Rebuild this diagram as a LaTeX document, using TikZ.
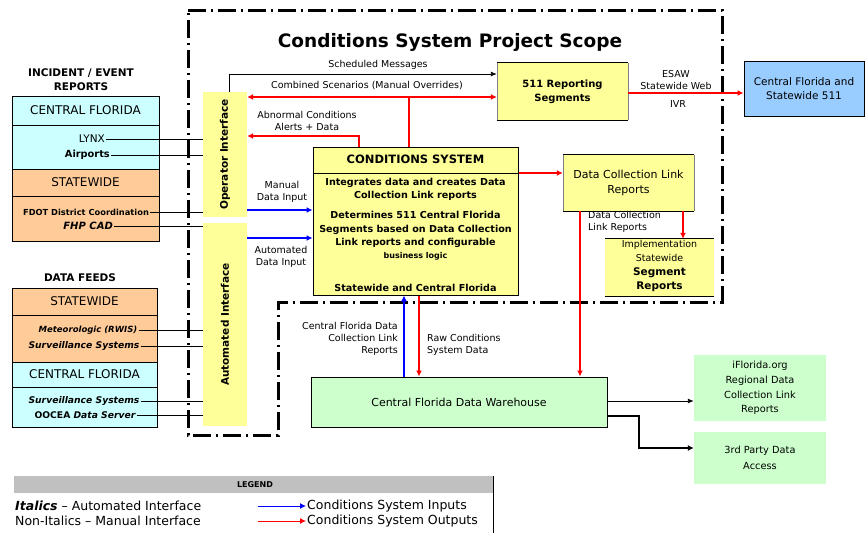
\documentclass[tikz,border=0pt]{standalone}
\usepackage{fontspec}
\setmainfont{DejaVu Sans}
\usetikzlibrary{arrows.meta}
\definecolor{cyel}{HTML}{FFFF99}
\definecolor{ccyan}{HTML}{CCFFFF}
\definecolor{corange}{HTML}{FFCC99}
\definecolor{cskyb}{HTML}{99CCFF}
\definecolor{cgreen}{HTML}{CCFFCC}
\definecolor{cgray}{HTML}{C0C0C0}
\definecolor{cred}{HTML}{FF0000}
\definecolor{cblue}{HTML}{0000FF}
\begin{document}
\begin{tikzpicture}[x=1pt,y=-1pt,
  every node/.style={inner sep=1pt},
  hd/.style={font=\fontsize{10.5}{14}\selectfont\bfseries, align=center},
  captxt/.style={font=\fontsize{12}{13}\selectfont},
  item/.style={font=\fontsize{10.5}{11}\selectfont},
  itemb/.style={font=\fontsize{8.3}{10}\selectfont\bfseries},
  itemi/.style={font=\fontsize{8.5}{10}\selectfont\bfseries\itshape},
  lab/.style={font=\fontsize{9.5}{12}\selectfont, align=center},
  btxt/.style={font=\fontsize{10.5}{14}\selectfont, align=center},
  csb/.style={font=\fontsize{9.6}{13.3}\selectfont\bfseries, align=center},
  vtxt/.style={rotate=90, font=\fontsize{10.5}{13}\selectfont\bfseries},
  legtxt/.style={font=\fontsize{12.5}{14}\selectfont, anchor=west},
  conn/.style={line width=0.9pt},
  blk/.style={line width=0.9pt, -{Latex[length=6pt,width=5pt]}},
  blkthick/.style={line width=2.2pt, -{Latex[length=6pt,width=6pt]}},
  redln/.style={draw=cred, line width=1.2pt},
  redarr/.style={draw=cred, line width=1.2pt, -{Latex[length=6pt,width=6pt]}},
  reddbl/.style={draw=cred, line width=1.8pt, {Latex[length=6pt,width=6pt]}-{Latex[length=6pt,width=6pt]}},
  bluearr/.style={draw=cblue, line width=1.8pt, -{Latex[length=6pt,width=6pt]}},
  scope/.style={line width=3pt, dash pattern=on 18pt off 5pt on 2pt off 5pt}
]
\useasboundingbox (0,0) rectangle (867,533);
\fill[white] (0,0) rectangle (867,533);

% ---------- project scope border ----------
\draw[scope] (188,10) -- (722,10) -- (722,302) -- (278,302) -- (278,435) -- (188,435) -- cycle;
\node[font=\fontsize{18.5}{22}\selectfont\bfseries] (title) at (450,42) {Conditions System Project Scope};

% ---------- incident / event reports panel ----------
\node[hd] (ierhd) at (81,80) {INCIDENT / EVENT\\REPORTS};
\fill[ccyan] (12,96) rectangle (159,169);
\fill[corange] (12,169) rectangle (159,241);
\draw[line width=1pt] (12,96) rectangle (159,241);
\draw[line width=1pt] (12,125) -- (159,125) (12,169) -- (159,169) (12,196) -- (159,196);
\node[captxt] (ier1) at (85.5,110.5) {CENTRAL FLORIDA};
\node[item, anchor=east] (lynx) at (106,139) {LYNX};
\node[itemb, font=\fontsize{9.8}{11}\selectfont\bfseries, anchor=east] (airp) at (111,155) {Airports};
\node[captxt] (ier2) at (85.5,182.5) {STATEWIDE};
\node[itemb] (fdot) at (86,212) {FDOT District Coordination};
\node[itemi, font=\fontsize{10}{11}\selectfont\bfseries\itshape, anchor=east] (fhp) at (114,226) {FHP CAD};

% ---------- data feeds panel ----------
\node[hd] (dfhd) at (80,278) {DATA FEEDS};
\fill[corange] (12,288) rectangle (157,362);
\fill[ccyan] (12,362) rectangle (157,427);
\draw[line width=1pt] (12,288) rectangle (157,427);
\draw[line width=1pt] (12,315) -- (157,315) (12,362) -- (157,362) (12,387) -- (157,387);
\node[captxt] (df1) at (84.5,301.5) {STATEWIDE};
\node[itemi] (met) at (88,330) {Meteorologic (RWIS)};
\node[itemi, font=\fontsize{9.2}{10}\selectfont\bfseries\itshape] (surv1) at (84,346) {Surveillance Systems};
\node[captxt] (df2) at (84.5,374.5) {CENTRAL FLORIDA};
\node[itemi, font=\fontsize{9.2}{10}\selectfont\bfseries\itshape] (surv2) at (84,401) {Surveillance Systems};
\node[itemb, font=\fontsize{9.2}{10}\selectfont\bfseries] (oocea) at (85,415) {OOCEA \itshape Data Server};

% ---------- interfaces ----------
\node[fill=cyel, minimum width=44pt, minimum height=125pt] (opif) at (225,154.5) {};
\node[vtxt] (opiftxt) at (opif.center) {Operator Interface};
\node[fill=cyel, minimum width=44pt, minimum height=203pt] (autoif) at (225,324.5) {};
\node[vtxt] (autoiftxt) at (autoif.center) {Automated Interface};

\draw[conn] (lynx.east) -- (lynx.east -| opif.west);
\draw[conn] (airp.east) -- (airp.east -| opif.west);
\draw[conn] (fdot.east) -- (fdot.east -| opif.west);
\draw[conn] (fhp.east) -- (fhp.east -| autoif.west);
\draw[conn] (met.east) -- (met.east -| autoif.west);
\draw[conn] (surv1.east) -- (surv1.east -| autoif.west);
\draw[conn] (surv2.east) -- (surv2.east -| autoif.west);
\draw[conn] (oocea.east) -- (oocea.east -| autoif.west);

% ---------- conditions system ----------
\node[draw, line width=1pt, fill=cyel, minimum width=205pt, minimum height=148pt] (cs) at (415.5,221) {};
\draw[line width=0.8pt] (cs.west |- 0,173) -- (cs.east |- 0,173);
\node[font=\fontsize{11.5}{14}\selectfont\bfseries] (cshd) at (415.5,159) {CONDITIONS SYSTEM};
\node[csb] (cst1) at (415.5,189.5) {Integrates data and creates Data\\Collection Link reports};
\node[csb] (cst2) at (415.5,236) {Determines 511 Central Florida\\Segments based on Data Collection\\Link reports and configurable\\{\fontsize{8}{10}\selectfont business logic}};
\node[csb] (cst3) at (415.5,288) {Statewide and Central Florida};

% ---------- 511 ----------
\node[fill=cyel, minimum width=131pt, minimum height=57pt] (r511) at (562.5,91.5) {};
\draw[line width=1.2pt] (r511.north west) -- (r511.north east) (r511.south west) -- (r511.south east);
\draw[line width=0.4pt, gray] (r511.north west) -- (r511.south west) (r511.north east) -- (r511.south east);
\node[btxt, font=\fontsize{10}{14}\selectfont\bfseries] (r511t) at (r511.center) {511 Reporting\\Segments};

\node[draw, line width=1pt, fill=cskyb, minimum width=120pt, minimum height=55pt] (cf511) at (804,88.5) {};
\node[btxt] (cf511t) at (cf511.center) {Central Florida and\\Statewide 511};

% ---------- data collection link reports ----------
\node[fill=cyel, minimum width=131pt, minimum height=56pt] (dclr) at (628.5,183) {};
\draw[line width=1.2pt] (dclr.north west) -- (dclr.north east) (dclr.south west) -- (dclr.south east);
\draw[line width=0.4pt, gray] (dclr.north west) -- (dclr.south west) (dclr.north east) -- (dclr.south east);
\node[btxt, font=\fontsize{11}{15}\selectfont] (dclrt) at (dclr.center) {Data Collection Link\\Reports};

\node[fill=cyel, minimum width=109pt, minimum height=57pt] (impl) at (659.5,267.5) {};
\draw[line width=1.2pt] (impl.north west) -- (impl.north east) (impl.south west) -- (impl.south east);
\node[font=\fontsize{9.5}{14}\selectfont, align=center] (implt) at (659.5,266) {Implementation\\Statewide\\{\bfseries\fontsize{10.5}{14}\selectfont Segment}\\{\bfseries\fontsize{10.5}{14}\selectfont Reports}};

% ---------- warehouse and outputs ----------
\node[draw, line width=1pt, fill=cgreen, minimum width=296pt, minimum height=50pt] (wh) at (459,402) {};
\node[btxt, font=\fontsize{11}{14}\selectfont] (wht) at (wh.center) {Central Florida Data Warehouse};

\node[fill=cgreen, minimum width=132pt, minimum height=66pt] (ifl) at (760,388) {};
\node[btxt, font=\fontsize{9.8}{14.8}\selectfont] (iflt) at (ifl.center) {iFlorida.org\\Regional Data\\Collection Link\\Reports};
\node[fill=cgreen, minimum width=132pt, minimum height=52pt] (third) at (760,458) {};
\node[btxt, font=\fontsize{9.8}{16}\selectfont] (thirdt) at (third.center) {3rd Party Data\\Access};

% ---------- connectors ----------
\coordinate (smb) at (229,74);
\draw[blk] (opif.north -| smb) -- (smb) -- (smb -| r511.west);
\node[lab] (smlab) at (378,65) {Scheduled Messages};

\coordinate (csy) at (0,97);
\draw[reddbl] (csy -| opif.east) -- (csy -| r511.west);
\coordinate (csv) at (409,97);
\draw[redln] (csv |- cs.north) -- (csv);
\node[lab] (cslab) at (367,85.5) {Combined Scenarios (Manual Overrides)};

\coordinate (abc) at (359,136);
\draw[redarr] (abc |- cs.north) -- (abc) -- (abc -| opif.east);
\node[lab] (ablab) at (307,120.5) {Abnormal Conditions\\Alerts + Data};

\coordinate (mdy) at (0,210);
\draw[bluearr] (mdy -| opif.east) -- (mdy -| cs.west);
\node[lab] (mdlab) at (282,191.5) {Manual\\Data Input};

\coordinate (ady) at (0,238);
\draw[bluearr] (ady -| autoif.east) -- (ady -| cs.west);
\node[lab] (adlab) at (281,257) {Automated\\Data Input};

\coordinate (r5y) at (0,93);
\draw[redarr] (r5y -| r511.east) -- (r5y -| cf511.west);
\node[lab] (eslab) at (676,80) {ESAW\\Statewide Web};
\node[lab] (ivrlab) at (678,104) {IVR};

\coordinate (cdy) at (0,173);
\draw[redarr] (cdy -| cs.east) -- (cdy -| dclr.west);

\coordinate (dix) at (683,0);
\draw[redarr] (dix |- dclr.south) -- (dix |- impl.north);
\node[lab, align=left, anchor=west] (dilab) at (587,222) {Data Collection\\Link Reports};

\coordinate (dwx) at (580,0);
\draw[redarr] (dwx |- dclr.south) -- (dwx |- wh.north);

\coordinate (bwx) at (404,0);
\draw[bluearr] (bwx |- wh.north) -- (bwx |- cs.south);
\node[lab, align=right, anchor=east] (bwlab) at (399,339) {Central Florida Data\\Collection Link\\Reports};

\coordinate (rwx) at (419,0);
\draw[redarr] (rwx |- cs.south) -- (rwx |- wh.north);
\node[lab, align=left, anchor=west] (rwlab) at (426,345) {Raw Conditions\\System Data};

\coordinate (wiy) at (0,401);
\draw[blk] (wiy -| wh.east) -- (wiy -| ifl.west);
\coordinate (wt1) at (639,416);
\coordinate (wt2) at (639,448);
\draw[blkthick] (wt1 -| wh.east) -- (wt1) -- (wt2) -- (wt2 -| third.west);

% ---------- legend ----------
\fill[cgray] (14,476) rectangle (493,493);
\draw[line width=1pt] (493,476) -- (493,533);
\node[font=\fontsize{8}{10}\selectfont\bfseries] (leghd) at (255,485) {LEGEND};
\node[legtxt] (leg1) at (14,506) {\bfseries\itshape Italics\mdseries\upshape{} – Automated Interface};
\node[legtxt] (leg2) at (14,521) {Non-Italics – Manual Interface};
\node[legtxt] (leg3) at (306,506) {Conditions System Inputs};
\node[legtxt] (leg4) at (306,521) {Conditions System Outputs};
\coordinate (lg3) at (258,506);
\coordinate (lg4) at (258,521);
\draw[draw=cblue, line width=1pt, -{Latex[length=6pt,width=6pt]}] (lg3) -- (leg3.west);
\draw[draw=cred, line width=1pt, -{Latex[length=6pt,width=6pt]}] (lg4) -- (leg4.west);
\end{tikzpicture}
\end{document}
